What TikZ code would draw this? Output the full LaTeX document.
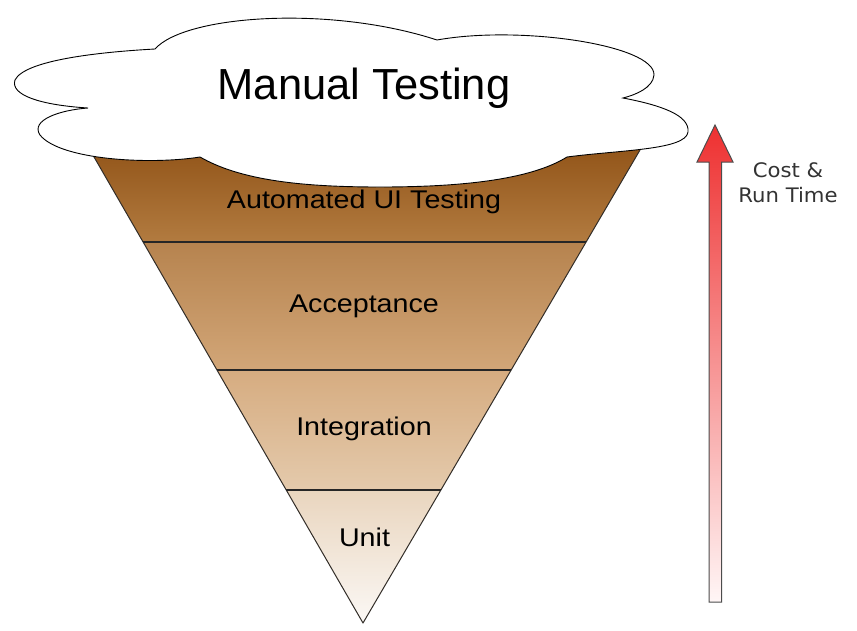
\documentclass[tikz,border=0pt]{standalone}
\usepackage{fontspec}
\setmainfont{Liberation Sans}
\newfontfamily\lsans{Liberation Sans}
\newfontfamily\lsanswide{Liberation Sans}[FakeStretch=1.12]
\newfontfamily\dvsans{DejaVu Sans}[FakeStretch=1.06]
\definecolor{b0}{RGB}{147,86,26}
\definecolor{b1}{RGB}{178,123,64}
\definecolor{b2}{RGB}{182,131,78}
\definecolor{b3}{RGB}{210,166,120}
\definecolor{b4}{RGB}{214,172,128}
\definecolor{b5}{RGB}{228,202,172}
\definecolor{b6}{RGB}{233,213,190}
\definecolor{b7}{RGB}{251,248,245}
\definecolor{arrtop}{RGB}{238,48,48}
\definecolor{arrbot}{RGB}{255,246,246}
\definecolor{edge}{RGB}{50,45,40}
\tikzset{
  band/.style={draw=none},
  sep/.style={draw=black!85, line width=2pt},
  bandtext/.style={anchor=base, inner sep=0pt, font=\lsanswide\fontsize{25.6}{30}\selectfont},
  cloudshape/.style={draw=black, line width=0.9pt, fill=white},
  sidetext/.style={anchor=base, inner sep=0pt, font=\dvsans\fontsize{20}{24}\selectfont, text=black!80}
}
\begin{document}
\begin{tikzpicture}[x=1pt,y=-1pt]
\useasboundingbox (0,0) rectangle (857,630);
% bands
\shade[band, top color=b0, bottom color=b1] (90,150) -- (640,150) -- (586.1,242) -- (143.1,242) -- cycle;
\shade[band, top color=b2, bottom color=b3] (143.1,242) -- (586.1,242) -- (511.2,370) -- (216.9,370) -- cycle;
\shade[band, top color=b4, bottom color=b5] (216.9,370) -- (511.2,370) -- (440.9,490) -- (286.2,490) -- cycle;
\shade[band, top color=b6, bottom color=b7] (286.2,490) -- (440.9,490) -- (363,623) -- cycle;
\coordinate (tl) at (90,150);
\coordinate (tr) at (640,150);
\coordinate (tip) at (363,623);
\draw[edge, line width=1pt, line join=round] (tl) -- (tip) -- (tr);
\coordinate (l1) at (143.1,242); \coordinate (r1) at (586.1,242);
\coordinate (l2) at (216.9,370); \coordinate (r2) at (511.2,370);
\coordinate (l3) at (286.2,490); \coordinate (r3) at (440.9,490);
\draw[sep] (l1) -- (r1);
\draw[sep] (l2) -- (r2);
\draw[sep] (l3) -- (r3);
% cloud
\path[cloudshape] (155,49) .. controls (185,15) and (330,5) .. (437,40)
  .. controls (520,25) and (655,45) .. (654,75)
  .. controls (653,88) and (635,95) .. (623,98)
  .. controls (660,105) and (690,115) .. (688,132)
  .. controls (686,150) and (620,150) .. (567,157)
  .. controls (530,180) and (460,187) .. (380,187)
  .. controls (300,187) and (240,180) .. (200,157)
  .. controls (150,165) and (60,160) .. (40,135)
  .. controls (30,120) and (60,110) .. (88,108)
  .. controls (40,105) and (10,95) .. (15,80)
  .. controls (25,60) and (100,52) .. (155,49) -- cycle;
\node[anchor=base, inner sep=0pt, font=\lsans\fontsize{43.5}{50}\selectfont] (manual) at (364,99) {Manual Testing};
% band labels
\node[bandtext] (ui) at (364,208) {Automated UI Testing};
\node[bandtext] (acc) at (364,312) {Acceptance};
\node[bandtext] (int) at (364,435) {Integration};
\node[bandtext] (unit) at (364.5,546) {Unit};
% arrow
\shade[top color=arrtop, bottom color=arrbot, draw=black!70, line width=1pt, line join=miter]
  (709,602) -- (709,162) -- (697,162) -- (715,125) -- (733,162) -- (721.5,162) -- (721.5,602) -- cycle;
\node[sidetext] (cost) at (788,177) {Cost \&};
\node[sidetext] (run) at (788,202) {Run Time};
\end{tikzpicture}
\end{document}
